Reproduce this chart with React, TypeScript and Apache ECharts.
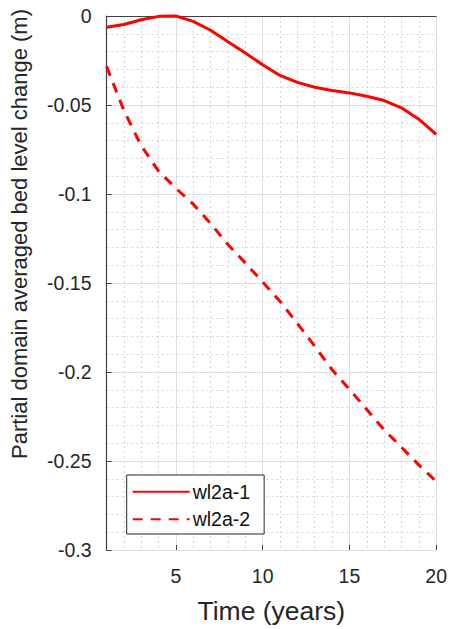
import React, { useEffect, useRef } from "react";
import * as echarts from "echarts";

const years = [1, 2, 3, 4, 5, 6, 7, 8, 9, 10, 11, 12, 13, 14, 15, 16, 17, 18, 19, 20];
const wl2a1 = [
  -0.0063, -0.0048, -0.0021, -0.0002, 0.0, -0.003, -0.008, -0.0144, -0.0208, -0.0274,
  -0.0334, -0.0373, -0.04, -0.0419, -0.0432, -0.0451, -0.0475, -0.0516, -0.058, -0.0665,
];
const wl2a2 = [
  -0.0283, -0.053, -0.0729, -0.0871, -0.0968, -0.1057, -0.1166, -0.1284, -0.1387, -0.1494,
  -0.1603, -0.1727, -0.1855, -0.1987, -0.2097, -0.2211, -0.2325, -0.2423, -0.2522, -0.2615,
];
const seriesNames = ["wl2a-1", "wl2a-2"];
const xMajorTicks = [5, 10, 15, 20];
const xTitle = "Time (years)";
const yTitle = "Partial domain averaged bed level change (m)";

const FONT = "'Liberation Sans', Arial, Helvetica, sans-serif";
const TXT = "#262626";

export default function App() {
  const ref = useRef<HTMLDivElement>(null);
  useEffect(() => {
    const chart = echarts.init(ref.current!, null, { renderer: "svg" });
    const toPairs = (vals: number[]) => years.map((x, i) => [x, vals[i]]);
    chart.setOption({
      animation: false,
      backgroundColor: "#ffffff",
      textStyle: { fontFamily: FONT },
      grid: { left: 106.5, right: 13.3, top: 16, bottom: 76, containLabel: false },
      xAxis: [
        {
          type: "value",
          min: 1,
          max: 20,
          interval: 1,
          position: "bottom",
          axisLine: { show: true, lineStyle: { color: "#404040", width: 1.2 } },
          axisTick: { show: false },
          axisLabel: { show: false },
          splitLine: { show: true, lineStyle: { color: "#d4d4d4", width: 1, type: [2, 3] } },
        },
        {
          type: "value",
          min: 1,
          max: 20,
          position: "bottom",
          name: xTitle,
          nameLocation: "middle",
          nameGap: 47,
          nameTextStyle: { fontSize: 26.5, color: TXT, fontFamily: FONT },
          axisLine: { show: false },
          axisTick: {
            show: true,
            inside: true,
            length: 5,
            customValues: xMajorTicks,
            lineStyle: { color: "#404040" },
          },
          axisLabel: {
            show: true,
            customValues: xMajorTicks,
            fontSize: 19.5,
            color: TXT,
            margin: 16,
            fontFamily: FONT,
          },
          splitLine: { show: true, lineStyle: { color: "#dedede", width: 1, type: "solid" } },
        },
      ],
      yAxis: {
        type: "value",
        min: -0.3,
        max: 0,
        interval: 0.05,
        axisLine: { show: true, lineStyle: { color: "#404040", width: 1.2 } },
        axisTick: { show: true, inside: true, length: 5, lineStyle: { color: "#404040" } },
        axisLabel: { fontSize: 19.5, color: TXT, margin: 15, fontFamily: FONT },
        splitLine: { show: true, lineStyle: { color: "#dedede", width: 1 } },
        minorTick: { show: false, splitNumber: 5 },
        minorSplitLine: { show: true, lineStyle: { color: "#d4d4d4", width: 1, type: [2, 3] } },
      },
      legend: {
        orient: "vertical",
        left: 126.7,
        top: 475,
        itemWidth: 57,
        itemHeight: 20,
        itemGap: 7.6,
        padding: [6.7, 14, 4.7, 5],
        borderColor: "#262626",
        borderWidth: 1,
        backgroundColor: "#ffffff",
        itemStyle: { opacity: 0 },
        textStyle: { fontSize: 19.5, color: "#111111", fontFamily: FONT, padding: [0, 0, 0, -2] },
        data: seriesNames,
      },
      graphic: [
        {
          type: "text",
          x: 19,
          y: 234,
          rotation: Math.PI / 2,
          style: {
            text: yTitle,
            fontSize: 22,
            fontFamily: FONT,
            fill: TXT,
            align: "center",
            verticalAlign: "middle",
          },
        },
      ],
      series: [
        {
          name: seriesNames[0],
          type: "line",
          xAxisIndex: 0,
          data: toPairs(wl2a1),
          showSymbol: false,
          symbol: "none",
          clip: false,
          lineStyle: { color: "#ff0000", width: 3, type: "solid" },
          itemStyle: { color: "#ff0000" },
        },
        {
          name: seriesNames[1],
          type: "line",
          xAxisIndex: 0,
          data: toPairs(wl2a2),
          showSymbol: false,
          symbol: "none",
          clip: false,
          lineStyle: { color: "#ff0000", width: 3, type: [10, 8] },
          itemStyle: { color: "#ff0000" },
        },
      ],
    });
    return () => chart.dispose();
  }, []);
  return (
    <div
      ref={ref}
      style={{ position: "fixed", left: 0, top: 0, width: 450, height: 629 }}
    />
  );
}
